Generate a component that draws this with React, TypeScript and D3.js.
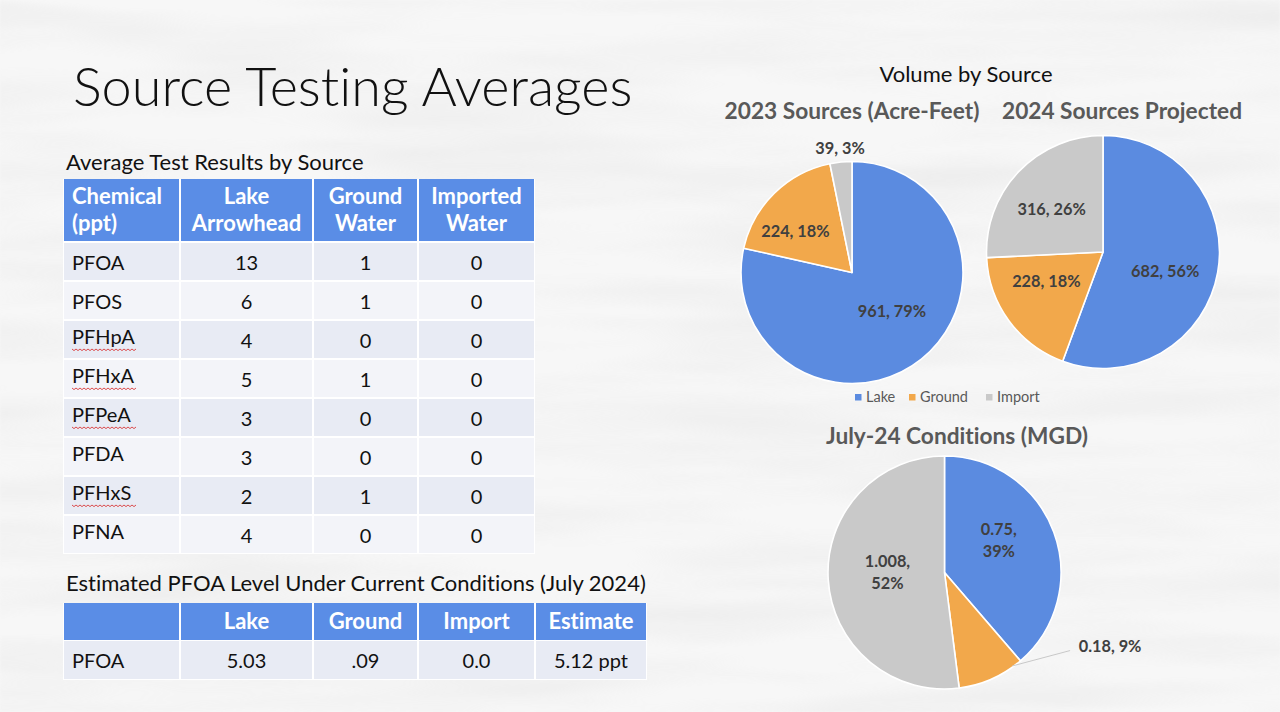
import React from "react";
import * as d3 from "d3";

const W = 1280;
const H = 712;
const FONT = "Lato, 'Open Sans', sans-serif";

// ---- Average test results (ppt) ----
const chemicals = ["PFOA", "PFOS", "PFHpA", "PFHxA", "PFPeA", "PFDA", "PFHxS", "PFNA"];
const lakeArrowhead = [13, 6, 4, 5, 3, 3, 2, 4];
const groundWater = [1, 1, 0, 1, 0, 0, 1, 0];
const importedWater = [0, 0, 0, 0, 0, 0, 0, 0];
const spellFlagged = ["PFHpA", "PFHxA", "PFPeA", "PFHxS"];
const resultHeaders = [
  ["Chemical", "(ppt)"],
  ["Lake", "Arrowhead"],
  ["Ground", "Water"],
  ["Imported", "Water"],
];

// ---- Estimated PFOA level (July 2024) ----
const estimateHeaders = ["", "Lake", "Ground", "Import", "Estimate"];
const estimateRow = ["PFOA", "5.03", ".09", "0.0", "5.12 ppt"];

// ---- Volume by source ----
const sources = ["Lake", "Ground", "Import"];
const acreFeet2023 = [961, 224, 39];
const percent2023 = [79, 18, 3];
const acreFeet2024 = [682, 228, 316];
const percent2024 = [56, 18, 26];
const mgdJuly24 = [0.75, 0.18, 1.008];
const percentJuly24 = [39, 9, 52];

// ---- styling / layout ----
const sourceColor = d3.scaleOrdinal<string, string>().domain(sources).range(["#5b8be0", "#f2a84b", "#c9c9c9"]);
const HEADER_BLUE = "#5a8de6";
const ROW_DARK = "#e8ebf4";
const ROW_LIGHT = "#f3f4f9";
const LABEL_GREY = "#404040";
const TITLE_GREY = "#595959";
const NO_LIGA = { fontVariantLigatures: "none" as const, fontFeatureSettings: "'liga' 0" };

type LabelSpot = { angle: number; frac: number; split?: boolean; leader?: number };

const pieCharts = [
  {
    title: "2023 Sources (Acre-Feet)",
    titleX: 852, titleY: 119,
    cx: 852, cy: 272.5, r: 111,
    values: acreFeet2023, percents: percent2023,
    spots: [
      { angle: 134, frac: 0.5 },
      { angle: 306, frac: 0.63 },
      { angle: 354.5, frac: 1.12 },
    ] as LabelSpot[],
  },
  {
    title: "2024 Sources Projected",
    titleX: 1122, titleY: 119,
    cx: 1103, cy: 252, r: 116.5,
    values: acreFeet2024, percents: percent2024,
    spots: [
      { angle: 107.6, frac: 0.56 },
      { angle: 242.2, frac: 0.55 },
      { angle: 309.3, frac: 0.57 },
    ] as LabelSpot[],
  },
  {
    title: "July-24 Conditions (MGD)",
    titleX: 957, titleY: 444,
    cx: 944.5, cy: 572.5, r: 116.5,
    values: mgdJuly24, percents: percentJuly24,
    spots: [
      { angle: 59.7, frac: 0.54, split: true },
      { angle: 114.1, frac: 1.557, leader: 144 },
      { angle: 270, frac: 0.49, split: true },
    ] as LabelSpot[],
  },
];

function polar(cx: number, cy: number, r: number, deg: number) {
  const a = (deg * Math.PI) / 180;
  return [cx + r * Math.sin(a), cy - r * Math.cos(a)];
}

function PieChart({ chart }: { chart: (typeof pieCharts)[number] }) {
  const { cx, cy, r, values, percents, spots } = chart;
  const arcs = d3.pie<number>().sort(null).value((d) => d)(values);
  const arcGen = d3.arc<d3.PieArcDatum<number>>().innerRadius(0).outerRadius(r);
  return (
    <g>
      <text x={chart.titleX} y={chart.titleY} textAnchor="middle" fontFamily={FONT} fontWeight={700} fontSize={22.7} fill={TITLE_GREY}>
        {chart.title}
      </text>
      <g transform={`translate(${cx},${cy})`}>
        {arcs.map((a, i) => (
          <path key={i} d={arcGen(a) || ""} fill={sourceColor(sources[i])} stroke="#ffffff" strokeWidth={1.6} strokeLinejoin="round" />
        ))}
      </g>
      {arcs.map((a, i) => {
        const s = spots[i];
        const [lx, ly] = polar(cx, cy, r * s.frac, s.angle);
        const valueText = `${values[i]},`;
        const pctText = `${percents[i]}%`;
        const common = { fontFamily: FONT, fontWeight: 700, fontSize: 16.3, fill: LABEL_GREY, textAnchor: "middle" as const };
        if (s.split) {
          return (
            <g key={i}>
              <text x={lx} y={ly - 11 + 5.5} {...common}>{valueText}</text>
              <text x={lx} y={ly + 11 + 5.5} {...common}>{pctText}</text>
            </g>
          );
        }
        let leaderLine = null;
        if (s.leader !== undefined) {
          const [ax, ay] = polar(cx, cy, r - 1, s.leader);
          leaderLine = <line x1={ax} y1={ay} x2={lx - 40} y2={ly + 4} stroke="#c8c8c8" strokeWidth={1} />;
        }
        return (
          <g key={i}>
            {leaderLine}
            <text x={lx} y={ly + 5.5} {...common}>{`${valueText} ${pctText}`}</text>
          </g>
        );
      })}
    </g>
  );
}

function Squiggle({ x0, x1, y }: { x0: number; x1: number; y: number }) {
  const steps = d3.range(x0, x1 + 0.01, 2);
  const line = d3.line<number>().x((x) => x).y((_, i) => y + (i % 2 === 0 ? 0 : 1.6));
  return <path d={line(steps) || ""} fill="none" stroke="#d93a3a" strokeWidth={0.9} />;
}

export default function App() {
  // results table geometry
  const colEdges = [63, 180, 313, 418, 535];
  const estEdges = [63, 180, 313, 418, 535, 647];
  const rowBand = d3.scaleBand<string>().domain(chemicals).range([242, 554]).paddingInner(0);
  const headerTop = 179;
  const headerBottom = 242;
  const rowColumns = [chemicals, lakeArrowhead, groundWater, importedWater];

  return (
    <svg width={W} height={H} viewBox={`0 0 ${W} ${H}`} style={{ position: "absolute", left: 0, top: 0, display: "block", ...NO_LIGA }}>
      <defs>
        <filter id="paper" x="0" y="0" width="100%" height="100%">
          <feTurbulence type="fractalNoise" baseFrequency="0.003 0.025" numOctaves={3} seed={7} />
          <feColorMatrix type="matrix" values="0 0 0 0 0.55  0 0 0 0 0.55  0 0 0 0 0.55  0 0 0 -1.6 1.05" />
          <feGaussianBlur stdDeviation="1.2" />
        </filter>
      </defs>
      <rect width={W} height={H} fill="#f7f7f7" />
      <rect width={W} height={H} filter="url(#paper)" opacity={0.2} />

      {/* slide title */}
      <text x={73} y={106} fontFamily={FONT} fontWeight={300} fontSize={54} fill="#111" style={NO_LIGA}>Source Testing Averages</text>

      {/* results table */}
      <text x={66} y={170} fontFamily={FONT} fontSize={22} fill="#111">Average Test Results by Source</text>
      <rect x={colEdges[0]} y={headerTop} width={colEdges[4] - colEdges[0]} height={554 - headerTop} fill="#ffffff" />
      {resultHeaders.map((lines, c) => {
        const x0 = colEdges[c];
        const x1 = colEdges[c + 1];
        const tx = c === 0 ? x0 + 9 : (x0 + x1) / 2;
        return (
          <g key={c}>
            <rect x={x0 + 1} y={headerTop} width={x1 - x0 - 2} height={headerBottom - headerTop - 1} fill={HEADER_BLUE} />
            {lines.map((t, k) => (
              <text key={k} x={tx} y={204 + k * 27} textAnchor={c === 0 ? "start" : "middle"} fontFamily={FONT} fontWeight={700} fontSize={22} fill="#ffffff">
                {t}
              </text>
            ))}
          </g>
        );
      })}
      {chemicals.map((chem, r) => {
        const y0 = rowBand(chem)!;
        const h = rowBand.bandwidth();
        const fill = r % 2 === 0 ? ROW_DARK : ROW_LIGHT;
        return (
          <g key={chem}>
            {rowColumns.map((col, c) => {
              const x0 = colEdges[c];
              const x1 = colEdges[c + 1];
              const isName = c === 0;
              const nameShift = isName && r >= 2 ? -3.5 : 0;
              const ty = y0 + h / 2 + 8 + nameShift;
              return (
                <g key={c}>
                  <rect x={x0 + 1} y={y0 + 1} width={x1 - x0 - 2} height={h - 2} fill={fill} />
                  <text x={isName ? x0 + 9 : (x0 + x1) / 2} y={ty} textAnchor={isName ? "start" : "middle"} fontFamily={FONT} fontSize={20} fill="#111">
                    {String(col[r])}
                  </text>
                  {isName && spellFlagged.includes(chem) ? <Squiggle x0={x0 + 9} x1={x0 + 73} y={ty + 5} /> : null}
                </g>
              );
            })}
          </g>
        );
      })}

      {/* estimate table */}
      <text x={66} y={591} fontFamily={FONT} fontSize={22} fill="#111">Estimated PFOA Level Under Current Conditions (July 2024)</text>
      <rect x={estEdges[0]} y={603} width={estEdges[5] - estEdges[0]} height={77} fill="#ffffff" />
      {estimateHeaders.map((t, c) => {
        const x0 = estEdges[c];
        const x1 = estEdges[c + 1];
        return (
          <g key={c}>
            <rect x={x0 + 1} y={603} width={x1 - x0 - 2} height={37} fill={HEADER_BLUE} />
            <text x={(x0 + x1) / 2} y={629} textAnchor="middle" fontFamily={FONT} fontWeight={700} fontSize={22} fill="#ffffff">{t}</text>
            <rect x={x0 + 1} y={641} width={x1 - x0 - 2} height={38} fill={ROW_DARK} />
            <text x={c === 0 ? x0 + 9 : (x0 + x1) / 2} y={668} textAnchor={c === 0 ? "start" : "middle"} fontFamily={FONT} fontSize={20} fill="#111">
              {estimateRow[c]}
            </text>
          </g>
        );
      })}

      {/* volume by source */}
      <text x={966} y={82} textAnchor="middle" fontFamily={FONT} fontSize={22} fill="#111">Volume by Source</text>
      {pieCharts.map((chart, i) => (
        <PieChart key={i} chart={chart} />
      ))}

      {/* legend */}
      {sources.map((s, i) => {
        const lx = [855, 909, 986][i];
        return (
          <g key={s}>
            <rect x={lx} y={394} width={6.5} height={6.5} fill={sourceColor(s)} />
            <text x={lx + 11} y={402} fontFamily={FONT} fontSize={14.5} fill={TITLE_GREY}>{s}</text>
          </g>
        );
      })}
    </svg>
  );
}
